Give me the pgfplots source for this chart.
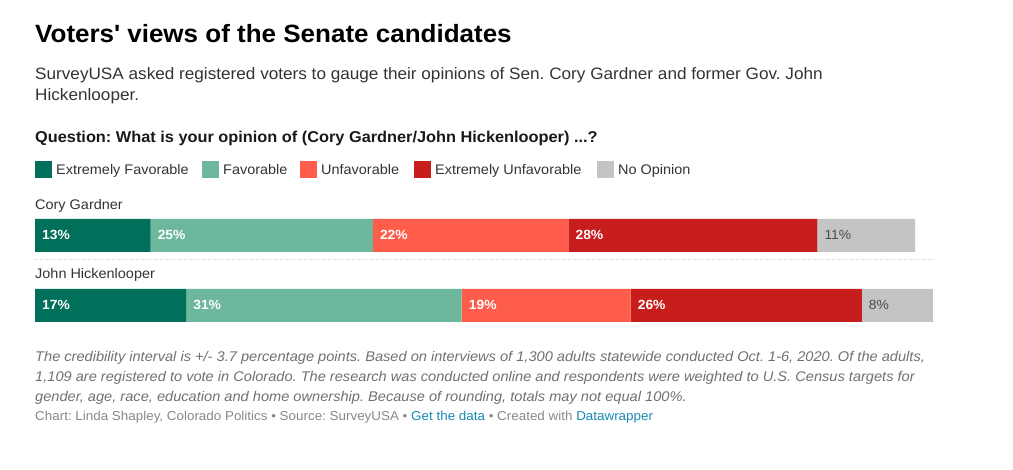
\documentclass[border=0pt]{standalone}
\usepackage{pgfplots}
\pgfplotsset{compat=1.18}
\usepackage{fontspec}
\setmainfont[FakeStretch=1.04]{Liberation Sans}
\frenchspacing

\definecolor{exfav}{RGB}{0,112,90}
\definecolor{fav}{RGB}{109,184,156}
\definecolor{unfav}{RGB}{255,93,75}
\definecolor{exunfav}{RGB}{199,30,29}
\definecolor{noop}{RGB}{196,196,196}
\definecolor{txt}{RGB}{51,51,51}
\definecolor{foot}{RGB}{112,112,112}
\definecolor{credit}{RGB}{136,136,136}
\definecolor{link}{RGB}{24,137,176}

% shared geometry: 1pt = 1px of the reference
\pgfplotsset{
  barbox/.style={
    scale only axis, width=897.9pt, height=70pt,
    at={(35pt,164.5pt)}, anchor=south west,
    xmin=0, xmax=101, ymin=0, ymax=1,
    hide axis, clip=false,
  },
  seglabel/.style={draw=none, mark=none, point meta=explicit symbolic,
    nodes near coords,
    every node near coord/.append style={anchor=west, inner sep=0pt, xshift=7pt, yshift=0.5pt}},
}

\begin{document}
\begin{tikzpicture}[x=1pt,y=1pt]
\path[use as bounding box] (0,0) rectangle (1013,470);

% titles
\node[anchor=base west, inner sep=0, font=\fontsize{25}{25}\selectfont\bfseries] at (35,470-43) {Voters\textquotesingle{} views of the Senate candidates};
\node[anchor=base west, inner sep=0, text=txt, font=\fontsize{16.5}{16.5}\selectfont] at (35,470-80) {SurveyUSA asked registered voters to gauge their opinions of Sen. Cory Gardner and former Gov. John};
\node[anchor=base west, inner sep=0, text=txt, font=\fontsize{16.5}{16.5}\selectfont] at (35,470-101) {Hickenlooper.};
\node[anchor=base west, inner sep=0, text=black!90, font=\fontsize{15.7}{15.7}\selectfont\bfseries] at (35,470-143) {Question: What is your opinion of (Cory Gardner/John Hickenlooper) ...?};

% legend
\begin{scope}[font=\fontsize{13.9}{13.9}\selectfont]
\fill[exfav]   (35,470-178) rectangle ++(17,17);
\node[anchor=base west, inner sep=0, text=txt] at (56,470-175) {Extremely Favorable};
\fill[fav]     (202,470-178) rectangle ++(17,17);
\node[anchor=base west, inner sep=0, text=txt] at (223,470-175) {Favorable};
\fill[unfav]   (300,470-178) rectangle ++(17,17);
\node[anchor=base west, inner sep=0, text=txt] at (321,470-175) {Unfavorable};
\fill[exunfav] (414,470-178) rectangle ++(17,17);
\node[anchor=base west, inner sep=0, text=txt] at (435,470-175) {Extremely Unfavorable};
\fill[noop]    (597,470-178) rectangle ++(17,17);
\node[anchor=base west, inner sep=0, text=txt] at (618,470-175) {No Opinion};
\end{scope}

% row names and separator
\node[anchor=base west, inner sep=0, text=txt, font=\fontsize{13.9}{13.9}\selectfont] at (35,470-210) {Cory Gardner};
\node[anchor=base west, inner sep=0, text=txt, font=\fontsize{13.9}{13.9}\selectfont] at (35,470-279) {John Hickenlooper};
\draw[black!20, dotted] (35,470-259) -- (933,470-259);

% bars: y=1 Cory Gardner, y=0 John Hickenlooper
\begin{axis}[barbox, xbar stacked, bar width=33pt]
\addplot[fill=exfav, draw=none]   coordinates {(13,1) (17,0)};
\addplot[fill=fav, draw=none]     coordinates {(25,1) (31,0)};
\addplot[fill=unfav, draw=none]   coordinates {(22,1) (19,0)};
\addplot[fill=exunfav, draw=none] coordinates {(28,1) (26,0)};
\addplot[fill=noop, draw=none]    coordinates {(11,1) (8,0)};
\end{axis}

% segment labels at the start of each segment
\begin{axis}[barbox]
\addplot[seglabel, every node near coord/.append style={text=white, font=\fontsize{13.3}{13.3}\selectfont\bfseries}]
  coordinates {(0,1)[13\%] (13,1)[25\%] (38,1)[22\%] (60,1)[28\%]
               (0,0)[17\%] (17,0)[31\%] (48,0)[19\%] (67,0)[26\%]};
\addplot[seglabel, every node near coord/.append style={text=black!70, font=\fontsize{13.3}{13.3}\selectfont}]
  coordinates {(88,1)[11\%] (93,0)[8\%]};
\end{axis}

% notes
\begin{scope}[font=\fontsize{14.05}{14.05}\selectfont\itshape]
\node[anchor=base west, inner sep=0, text=foot] at (35,470-362) {The credibility interval is +/- 3.7 percentage points. Based on interviews of 1,300 adults statewide conducted Oct. 1-6, 2020. Of the adults,};
\node[anchor=base west, inner sep=0, text=foot] at (35,470-382) {1,109 are registered to vote in Colorado. The research was conducted online and respondents were weighted to U.S. Census targets for};
\node[anchor=base west, inner sep=0, text=foot] at (35,470-402) {gender, age, race, education and home ownership. Because of rounding, totals may not equal 100\%.};
\end{scope}
\node[anchor=base west, inner sep=0, text=credit, font=\fontsize{12.9}{12.9}\selectfont] at (35,470-421) {Chart: Linda Shapley, Colorado Politics • Source: SurveyUSA • \textcolor{link}{Get the data} • Created with \textcolor{link}{Datawrapper}};
\end{tikzpicture}
\end{document}
